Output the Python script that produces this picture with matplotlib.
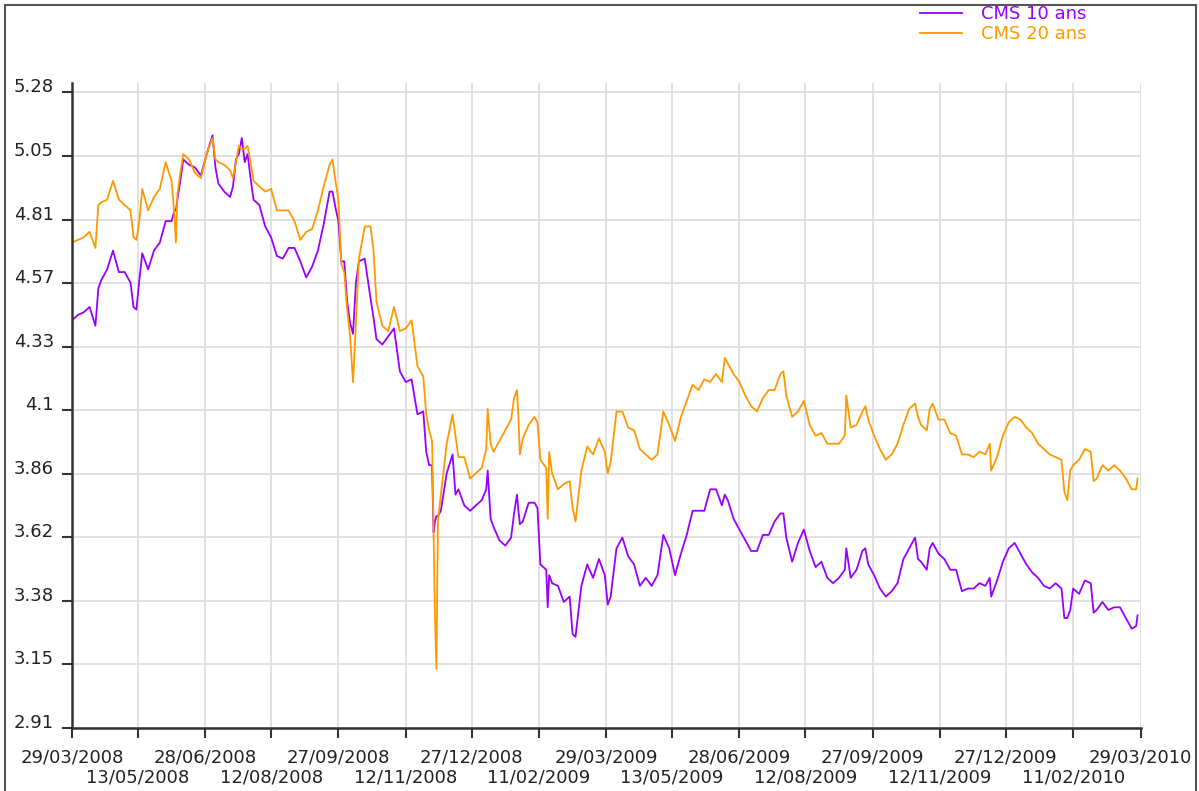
import datetime as dt
import matplotlib
matplotlib.use("Agg")
import matplotlib.pyplot as plt
import numpy as np
from matplotlib.patches import Rectangle

# données (jours depuis le 29/03/2008)
start_date = "2008-03-29"
end_date = "2010-03-29"

days = [0, 4, 8, 12, 16, 18, 20, 24, 28, 32, 36, 40, 42, 44, 46, 48, 52, 56, 60, 64, 68, 70, 71, 72,
        74, 76, 80, 84, 88, 92, 96, 98, 100, 104, 108, 110, 112, 114, 116, 118, 120, 122, 124, 128,
        132, 136, 140,
        144, 148, 152, 156, 160, 164, 168, 172, 176, 178, 180, 182, 184, 186, 188, 190, 192, 194, 196,
        200, 204, 206, 208, 212, 216, 220, 224, 228, 232, 236, 240, 242, 244, 246, 247, 248, 249, 250,
        252, 256, 260, 262, 264, 268, 272,
        276, 280, 283, 284, 286, 288, 292, 296, 300, 302, 304, 305, 306, 308, 312, 316, 318, 320, 324,
        325, 326, 328, 332, 336, 340, 342, 344, 348, 352, 356, 360, 364, 366, 368, 372, 376, 380, 384,
        388, 392, 396, 400, 404, 408, 412, 416, 420, 424, 428,
        432, 436, 440, 444, 446, 448, 452, 456, 460, 464, 468, 472, 476, 480, 484, 486, 488, 492, 496,
        500, 504, 508, 512, 516, 520, 524, 528, 529, 532, 536, 540, 542, 544, 548, 552, 556, 560, 564,
        568, 572, 576, 578,
        580, 584, 586, 588, 592, 596, 600, 604, 608, 612, 616, 620, 624, 627, 628, 632, 636, 640, 644,
        648, 652, 656, 660, 664, 668, 672, 676, 678, 680, 682, 684, 688, 692, 696, 698, 700, 704, 708,
        712, 716, 720, 724, 727, 728]

cms10 = [4.43, 4.45, 4.46, 4.48, 4.41, 4.55, 4.58, 4.62, 4.69, 4.61, 4.61, 4.57, 4.48, 4.47, 4.58, 4.68,
         4.62, 4.69, 4.72, 4.80, 4.80, 4.84, 4.84, 4.88, 4.95, 5.03, 5.01, 5.00, 4.97, 5.05, 5.12, 5.00,
         4.94, 4.91, 4.89, 4.93, 5.03, 5.05, 5.11, 5.02, 5.05, 4.96, 4.88, 4.86, 4.78, 4.74, 4.67,
         4.66, 4.70, 4.70, 4.65, 4.59, 4.63, 4.69, 4.79, 4.91, 4.91, 4.85, 4.80, 4.65, 4.65, 4.50, 4.42,
         4.38, 4.57, 4.65, 4.66, 4.51, 4.44, 4.36, 4.34, 4.37, 4.40, 4.24, 4.20, 4.21, 4.08, 4.09, 3.94,
         3.89, 3.89, 3.64, 3.68, 3.70, 3.70, 3.72, 3.86, 3.93, 3.78, 3.80, 3.74, 3.72,
         3.74, 3.76, 3.80, 3.87, 3.69, 3.66, 3.61, 3.59, 3.62, 3.71, 3.78, 3.72, 3.67, 3.68, 3.75, 3.75,
         3.73, 3.52, 3.50, 3.36, 3.48, 3.45, 3.44, 3.38, 3.40, 3.26, 3.25, 3.44, 3.52, 3.47, 3.54, 3.48,
         3.37, 3.40, 3.58, 3.62, 3.55, 3.52, 3.44, 3.47, 3.44, 3.48, 3.63, 3.58, 3.48, 3.56, 3.63, 3.72,
         3.72,
         3.72, 3.80, 3.80, 3.74, 3.78, 3.76, 3.69, 3.65, 3.61, 3.57, 3.57, 3.63, 3.63, 3.68, 3.71, 3.71,
         3.62, 3.53, 3.60, 3.65, 3.57, 3.51, 3.53, 3.47, 3.45, 3.47, 3.50, 3.58, 3.47, 3.50, 3.57, 3.58,
         3.52, 3.48, 3.43, 3.40, 3.42, 3.45, 3.54, 3.58, 3.62, 3.54,
         3.53, 3.50, 3.58, 3.60, 3.56, 3.54, 3.50, 3.50, 3.42, 3.43, 3.43, 3.45, 3.44, 3.47, 3.40, 3.46,
         3.53, 3.58, 3.60, 3.56, 3.52, 3.49, 3.47, 3.44, 3.43, 3.45, 3.43, 3.32, 3.32, 3.35, 3.43, 3.41,
         3.46, 3.45, 3.34, 3.35, 3.38, 3.35, 3.36, 3.36, 3.32, 3.28, 3.29, 3.33]

cms20 = [4.72, 4.73, 4.74, 4.76, 4.70, 4.86, 4.87, 4.88, 4.95, 4.88, 4.86, 4.84, 4.74, 4.73, 4.80, 4.92,
         4.84, 4.89, 4.92, 5.02, 4.95, 4.82, 4.72, 4.90, 4.98, 5.05, 5.03, 4.98, 4.96, 5.05, 5.11, 5.03,
         5.02, 5.01, 4.99, 4.96, 5.02, 5.08, 5.07, 5.07, 5.08, 5.02, 4.95, 4.93, 4.91, 4.92, 4.84,
         4.84, 4.84, 4.80, 4.73, 4.76, 4.77, 4.84, 4.93, 5.01, 5.03, 4.95, 4.88, 4.64, 4.61, 4.47, 4.37,
         4.20, 4.42, 4.66, 4.78, 4.78, 4.69, 4.50, 4.41, 4.39, 4.48, 4.39, 4.40, 4.43, 4.26, 4.22, 4.08,
         4.02, 3.98, 3.65, 3.32, 3.13, 3.68, 3.78, 3.97, 4.08, 4.00, 3.92, 3.92, 3.84,
         3.86, 3.88, 3.95, 4.10, 3.97, 3.94, 3.98, 4.02, 4.06, 4.14, 4.17, 4.07, 3.93, 3.99, 4.04, 4.07,
         4.05, 3.91, 3.88, 3.69, 3.94, 3.86, 3.80, 3.82, 3.83, 3.73, 3.68, 3.87, 3.96, 3.93, 3.99, 3.94,
         3.86, 3.90, 4.09, 4.09, 4.03, 4.02, 3.95, 3.93, 3.91, 3.93, 4.09, 4.04, 3.98, 4.07, 4.13, 4.19,
         4.17,
         4.21, 4.20, 4.23, 4.20, 4.29, 4.27, 4.23, 4.20, 4.15, 4.11, 4.09, 4.14, 4.17, 4.17, 4.23, 4.24,
         4.15, 4.07, 4.09, 4.13, 4.04, 4.00, 4.01, 3.97, 3.97, 3.97, 4.00, 4.15, 4.03, 4.04, 4.09, 4.11,
         4.06, 4.00, 3.95, 3.91, 3.93, 3.97, 4.04, 4.10, 4.12, 4.07,
         4.04, 4.02, 4.10, 4.12, 4.06, 4.06, 4.01, 4.00, 3.93, 3.93, 3.92, 3.94, 3.93, 3.97, 3.87, 3.92,
         4.00, 4.05, 4.07, 4.06, 4.03, 4.01, 3.97, 3.95, 3.93, 3.92, 3.91, 3.79, 3.76, 3.87, 3.89, 3.91,
         3.95, 3.94, 3.83, 3.84, 3.89, 3.87, 3.89, 3.87, 3.84, 3.80, 3.80, 3.84]

x_labels = ["29/03/2008", "13/05/2008", "28/06/2008", "12/08/2008", "27/09/2008", "12/11/2008",
            "27/12/2008", "11/02/2009", "29/03/2009", "13/05/2009", "28/06/2009", "12/08/2009",
            "27/09/2009", "12/11/2009", "27/12/2009", "11/02/2010", "29/03/2010"]
y_labels = ["2.91", "3.15", "3.38", "3.62", "3.86", "4.1", "4.33", "4.57", "4.81", "5.05", "5.28"]

purple = "#9900ff"
orange = "#ff9900"

dates = np.datetime64(start_date) + np.array(days, dtype="timedelta64[D]")
x_ticks = [dt.datetime.strptime(s, "%d/%m/%Y") for s in x_labels]

W, H = 1199, 791
fig = plt.figure(figsize=(W / 100, H / 100), dpi=100)
ax = fig.add_axes([72 / W, 1 - 728 / H, (1140.5 - 72) / W, (728 - 83) / H])

l10, = ax.plot(dates, cms10, color=purple, lw=1.3, label="CMS 10 ans")
l20, = ax.plot(dates, cms20, color=orange, lw=1.3, label="CMS 20 ans")

ax.set_xlim(np.datetime64(start_date), np.datetime64(end_date))
ax.set_ylim(2.91, 5.315)

# deux rangées d'étiquettes : rangée haute en major, rangée basse en minor
ax.set_xticks(x_ticks[::2])
ax.set_xticklabels(x_labels[::2])
ax.set_xticks(x_ticks[1::2], minor=True)
ax.set_xticklabels(x_labels[1::2], minor=True)
ax.set_yticks(np.linspace(2.91, 5.28, len(y_labels)))
ax.set_yticklabels(y_labels)
for t in ax.get_yticklabels():
    t.set_va("baseline")

ax.tick_params(which="both", direction="out", length=7, width=1.5, color="#333333",
               labelsize=13, labelcolor="#222222")
ax.tick_params(axis="x", which="major", pad=7.5)
ax.tick_params(axis="x", which="minor", pad=22.5)
ax.tick_params(axis="y", pad=6)

ax.grid(True, which="both", color="#dedede", lw=1.3)
ax.set_axisbelow(True)
for side in ["top", "right"]:
    ax.spines[side].set_visible(False)
for side in ["left", "bottom"]:
    ax.spines[side].set_color("#333333")
    ax.spines[side].set_linewidth(1.8)

fig.legend(handles=[l10, l20], loc="upper left", bbox_to_anchor=(920 / W, 1 - 5 / H),
           frameon=False, borderpad=0, borderaxespad=0, handlelength=2.3,
           handletextpad=1.1, labelspacing=0.12, labelcolor="linecolor", fontsize=13)

# cadre autour de l'image
fig.patches.append(Rectangle((5 / W, -0.05), (1196 - 5) / W, 1.05 - 5 / H,
                             transform=fig.transFigure, fill=False,
                             ec="#555555", lw=1.5))

fig.savefig("out.png", dpi=100)
